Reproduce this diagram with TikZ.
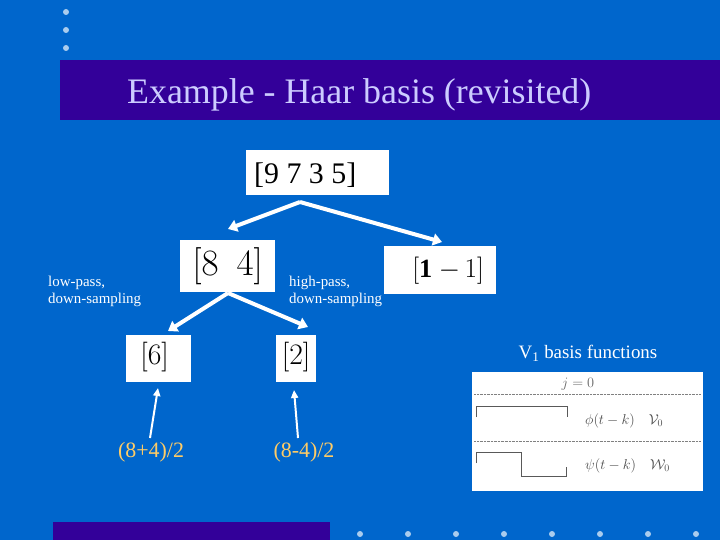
\documentclass[tikz,border=0pt]{standalone}
\usepackage{fontspec}
\setmainfont{Liberation Serif}
\usetikzlibrary{arrows.meta}
\definecolor{bg}{HTML}{0066CC}
\definecolor{bar}{HTML}{330099}
\definecolor{ttl}{HTML}{CCCCFF}
\definecolor{dotc}{HTML}{AACCEE}
\definecolor{yel}{HTML}{FFCC66}
\tikzset{
  wbox/.style={fill=white,inner sep=0pt,anchor=north west},
  dot/.style={circle,fill=dotc,inner sep=0pt,minimum size=6bp},
  fat/.style={white,line width=4bp,-{Triangle[length=9bp,width=12bp]}},
  thin/.style={white,line width=2bp,-{Triangle[length=8bp,width=7bp]}},
  lbl/.style={white,font=\fontsize{15}{17}\selectfont,align=left,anchor=north west,inner sep=0pt}
}
\begin{document}
\begin{tikzpicture}[x=1bp,y=-1bp]
\fill[bg] (0,0) rectangle (720,540);
\useasboundingbox (0,0) rectangle (720,540);
\foreach \y in {12,30,48} \node[dot] (d\y) at (66,\y) {};
\fill[bar] (60,60) rectangle (720,120);
\node[ttl,font=\fontsize{36}{38}\selectfont,anchor=west,inner sep=0pt] (title) at (127,95) {Example - Haar basis (revisited)};
\fill[bar] (53,522) rectangle (330,540);
\foreach \x in {360,408,456,504,552,600,648,696} \node[dot] (b\x) at (\x,534) {};
% boxes
\node[wbox,minimum width=143bp,minimum height=45bp] (top) at (246,150) {};
\node[font=\fontsize{30}{32}\selectfont,anchor=west,inner sep=0pt] (toptxt) at (254,175) {[9 7 3 5]};
\node[wbox,minimum width=95bp,minimum height=52bp] (l1) at (180,240) {};
\node[scale=1.5,font=\fontsize{24}{26}\selectfont] at (l1.center) {$[8\ \ 4]$};
\node[wbox,minimum width=112bp,minimum height=48bp] (r1) at (384,246) {};
\node[scale=1.1,font=\fontsize{24}{26}\selectfont] at ([xshift=8bp]r1.center) {$[\mathbf{1}\ {-}\,1]$};
\node[wbox,minimum width=65bp,minimum height=47bp] (l2) at (126,335) {};
\node[scale=1.2,font=\fontsize{24}{26}\selectfont] at ([xshift=-4bp,yshift=2bp]l2.center) {$[6]$};
\node[wbox,minimum width=40bp,minimum height=47bp] (r2) at (276,335) {};
\node[scale=1.2,font=\fontsize{24}{26}\selectfont] at ([yshift=2bp]r2.center) {$[2]$};
% arrows
\coordinate (s1) at (300,202);
\draw[fat] (s1) -- (228,229);
\draw[fat] (s1) -- (442,242);
\coordinate (s2) at (228,293);
\draw[fat] (s2) -- (168,331);
\draw[fat] (s2) -- (308,327);
\node[lbl] (lp) at (48,276) {low-pass,\\down-sampling};
\node[lbl] (hp) at (289,276) {high-pass,\\down-sampling};
\node[yel,font=\fontsize{22}{24}\selectfont] (a) at (151,452) {(8+4)/2};
\node[yel,font=\fontsize{22}{24}\selectfont] (b) at (304,452) {(8-4)/2};
\draw[thin] (150,438) -- (158,388);
\draw[thin] (298,438) -- (294,390);
\node[white,font=\fontsize{19}{21}\selectfont] (v1) at (588,353) {V\textsubscript{1} basis functions};
% image
\node[wbox,minimum width=231bp,minimum height=119bp] (img) at (472,372) {};
\node[font=\fontsize{14}{15}\selectfont,text=gray!80!black] (j) at (578,384) {$j=0$};
\draw[gray,densely dotted] (474,394) -- (700,394);
\draw[gray,densely dotted] (474,441) -- (700,441);
\draw[gray!70!black] (476,417) -- (476,406) -- (567,406) -- (567,417);
\draw[gray!70!black] (476,463) -- (476,452) -- (521,452) -- (521,476) -- (566,476) -- (566,467);
\node[font=\fontsize{14}{15}\selectfont,text=gray!60!black,anchor=west,inner sep=0pt] (phi) at (585,421) {$\phi(t-k)\quad \mathcal{V}_0$};
\node[font=\fontsize{14}{15}\selectfont,text=gray!60!black,anchor=west,inner sep=0pt] (psi) at (585,466) {$\psi(t-k)\quad \mathcal{W}_0$};
\end{tikzpicture}
\end{document}
